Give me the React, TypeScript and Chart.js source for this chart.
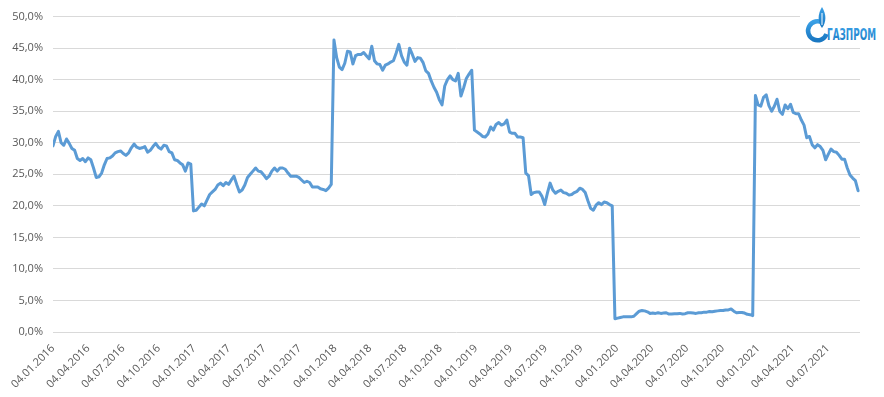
import React, { useEffect, useRef } from "react";
import { Chart, registerables } from "chart.js";

Chart.register(...registerables);

// Weekly observations, first one on 04.01.2016, one every 7 days
const START = { d: 4, m: 1, y: 2016 };
const STEP_DAYS = 7;
const AXIS_END_DAYS = 2091;

const quarterLabels = [
  "04.01.2016", "04.04.2016", "04.07.2016", "04.10.2016",
  "04.01.2017", "04.04.2017", "04.07.2017", "04.10.2017",
  "04.01.2018", "04.04.2018", "04.07.2018", "04.10.2018",
  "04.01.2019", "04.04.2019", "04.07.2019", "04.10.2019",
  "04.01.2020", "04.04.2020", "04.07.2020", "04.10.2020",
  "04.01.2021", "04.04.2021", "04.07.2021",
];

const values2016 = [
  29.5, 31.0, 31.8, 30.0, 29.6, 30.6, 29.9, 29.1, 28.8, 27.5, 27.2, 27.5, 27.0,
  27.6, 27.3, 26.0, 24.5, 24.6, 25.2, 26.5, 27.5, 27.6, 27.9, 28.4, 28.6, 28.7,
  28.3, 28.0, 28.4, 29.2, 29.8, 29.3, 29.1, 29.2, 29.4, 28.5, 28.8, 29.4, 29.9,
  29.3, 29.0, 29.6, 29.5, 28.6, 28.4, 27.3, 27.2, 26.8, 26.5, 25.5, 26.8, 26.6,
];
const values2017 = [
  19.2, 19.3, 19.8, 20.3, 20.0, 20.9, 21.8, 22.2, 22.6, 23.3, 23.6, 23.2, 23.7,
  23.4, 24.1, 24.7, 23.4, 22.2, 22.5, 23.3, 24.5, 25.0, 25.5, 26.0, 25.5, 25.4,
  24.9, 24.3, 24.7, 25.5, 26.0, 25.5, 26.0, 26.0, 25.8, 25.2, 24.7, 24.7, 24.7,
  24.5, 24.1, 23.7, 23.9, 23.7, 23.0, 23.0, 23.0, 22.7, 22.6, 22.4, 22.8, 23.4,
];
const values2018 = [
  46.3, 43.5, 42.0, 41.6, 42.6, 44.5, 44.4, 42.5, 43.8, 44.0, 44.0, 44.3, 43.8,
  43.3, 45.3, 43.0, 42.5, 42.4, 41.5, 42.3, 42.5, 42.8, 43.0, 44.2, 45.6, 43.8,
  42.8, 42.3, 45.0, 44.0, 42.9, 43.5, 43.4, 42.7, 41.4, 41.0, 39.8, 38.8, 38.0,
  36.8, 36.0, 39.0, 40.0, 40.6, 40.0, 39.8, 41.0, 37.4, 38.7, 40.2, 40.9, 41.5,
];
const values2019 = [
  32.0, 31.7, 31.4, 31.0, 30.9, 31.4, 32.5, 32.0, 32.9, 33.2, 32.8, 33.0, 33.6,
  31.7, 31.5, 31.5, 30.9, 30.9, 30.8, 25.2, 24.8, 21.8, 22.1, 22.2, 22.2, 21.5,
  20.2, 22.0, 23.6, 22.5, 22.0, 22.3, 22.5, 22.1, 22.0, 21.7, 21.8, 22.1, 22.3,
  22.8, 22.6, 22.1, 20.8, 19.6, 19.3, 20.1, 20.5, 20.2, 20.6, 20.5, 20.2, 20.0,
];
const values2020 = [
  2.1, 2.2, 2.3, 2.4, 2.4, 2.4, 2.4, 2.5, 2.9, 3.3, 3.4, 3.35, 3.2,
  2.95, 3.0, 2.95, 3.05, 2.95, 3.0, 3.05, 2.85, 2.85, 2.9, 2.9, 2.95, 2.85,
  2.9, 3.05, 3.05, 3.0, 2.95, 3.05, 3.05, 3.15, 3.15, 3.25, 3.2, 3.3, 3.35,
  3.4, 3.4, 3.5, 3.5, 3.65, 3.3, 3.05, 3.1, 3.1, 3.0, 2.8, 2.75, 2.6,
];
const values2021 = [
  37.5, 36.0, 35.8, 37.2, 37.6, 35.9, 35.0, 35.8, 36.9, 35.0, 34.5, 36.0, 35.4,
  36.1, 34.8, 34.6, 34.6, 33.6, 32.8, 30.8, 31.0, 29.7, 29.2, 29.7, 29.4, 28.8,
  27.3, 28.2, 29.0, 28.6, 28.5, 28.0, 27.4, 27.4, 26.0, 24.9, 24.4, 24.0, 22.4,
];

const allValues = [
  ...values2016, ...values2017, ...values2018,
  ...values2019, ...values2020, ...values2021,
];

const FONT = { family: "'Open Sans', 'DejaVu Sans', sans-serif", size: 11 };
const TEXT_COLOR = "#595959";
const LINE_COLOR = "#5b9bd5";

function dayIndex(label: string): number {
  const [d, m, y] = label.split(".").map(Number);
  return Math.round(
    (Date.UTC(y, m - 1, d) - Date.UTC(START.y, START.m - 1, START.d)) / 86400000
  );
}

export default function App() {
  const ref = useRef<HTMLCanvasElement | null>(null);

  useEffect(() => {
    if (!ref.current) return;
    const chart = new Chart(ref.current, {
      type: "line",
      data: {
        datasets: [
          {
            data: allValues.map((v, i) => ({ x: i * STEP_DAYS, y: v })),
            borderColor: LINE_COLOR,
            borderWidth: 3,
            pointRadius: 0,
            tension: 0,
            borderJoinStyle: "round",
            borderCapStyle: "round",
            fill: false,
          },
        ],
      },
      options: {
        animation: false,
        responsive: true,
        maintainAspectRatio: false,
        layout: { padding: { top: 15, right: 24, left: 0, bottom: 0 } },
        plugins: { legend: { display: false }, tooltip: { enabled: false } },
        scales: {
          x: {
            type: "linear",
            min: 0,
            max: AXIS_END_DAYS,
            grid: { display: false },
            border: { display: false },
            afterBuildTicks: (s: any) => {
              s.ticks = quarterLabels.map((l) => ({ value: dayIndex(l) }));
            },
            afterFit: (s: any) => {
              s.height = 65;
            },
            ticks: {
              autoSkip: false,
              maxRotation: 45,
              minRotation: 45,
              padding: 2,
              color: TEXT_COLOR,
              font: FONT,
              callback: (_v: any, i: number) => quarterLabels[i],
            },
          },
          y: {
            min: 0,
            max: 50,
            grid: { color: "#d9d9d9", drawTicks: false, lineWidth: 1 },
            border: { display: false },
            afterFit: (s: any) => {
              s.width = 53;
            },
            ticks: {
              stepSize: 5,
              padding: 10,
              color: TEXT_COLOR,
              font: FONT,
              callback: (v: any) => Number(v).toFixed(1).replace(".", ",") + "%",
            },
          },
        },
      },
    } as any);
    return () => chart.destroy();
  }, []);

  return (
    <div
      style={{
        position: "absolute",
        left: 0,
        top: 0,
        width: 884,
        height: 397,
        background: "#ffffff",
      }}
    >
      <canvas ref={ref} />
      <svg
        width={84}
        height={42}
        style={{ position: "absolute", left: 800, top: 4, background: "#ffffff" }}
      >
        <defs>
          <linearGradient id="gz" x1="0" y1="0" x2="0" y2="1">
            <stop offset="0" stopColor="#3aa0e6" />
            <stop offset="1" stopColor="#1a78c2" />
          </linearGradient>
        </defs>
        <path
          d="M 23 19 A 9.5 9.5 0 1 0 26.5 30"
          fill="none"
          stroke="url(#gz)"
          strokeWidth={4.5}
        />
        <path
          d="M 22 3 C 26.5 10, 26.5 18, 22 24 C 17.5 18, 17.5 10, 22 3 Z"
          fill="url(#gz)"
        />
        <path d="M 22 9 L 22 21" stroke="#ffffff" strokeWidth={1} />
        <text
          x={27}
          y={36}
          fontFamily="'DejaVu Sans Condensed', 'DejaVu Sans', sans-serif"
          fontWeight="bold"
          fontSize={15}
          fill="url(#gz)"
          textLength={49}
          lengthAdjust="spacingAndGlyphs"
        >
          ГАЗПРОМ
        </text>
      </svg>
    </div>
  );
}
